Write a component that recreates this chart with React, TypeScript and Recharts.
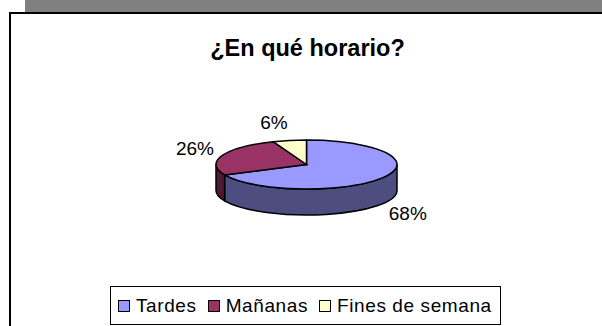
import React from 'react';
import { PieChart, Pie, Cell, Legend } from 'recharts';

const categories = ['Tardes', 'Mañanas', 'Fines de semana'];
const values = [68, 26, 6];
const topColors = ['#9999ff', '#993366', '#ffffcc'];
const wallColors = ['#4d4d80', '#4d1a33', '#80806a'];
const tableData = categories.map((name, i) => ({ name, value: values[i] }));

const CX = 306.5;
const CY = 164.5;
const RX = 90.5;
const SQUASH = 24.5 / 90.5;
const DEPTH = 26;
const RAD = Math.PI / 180;

const pt = (cx: number, cy: number, r: number, a: number) => [
  cx + r * Math.cos(a * RAD),
  cy - r * SQUASH * Math.sin(a * RAD),
];

function Slice3D(props: any) {
  const { cx, cy, outerRadius: r, startAngle, endAngle, index } = props;
  const ry = r * SQUASH;
  const [sx, sy] = pt(cx, cy, r, startAngle);
  const [ex, ey] = pt(cx, cy, r, endAngle);
  const large = Math.abs(startAngle - endAngle) > 180 ? 1 : 0;
  const top = `M${cx},${cy}L${sx},${sy}A${r},${ry} 0 ${large} 1 ${ex},${ey}Z`;
  const wa = Math.min(startAngle, 0);
  const wb = Math.max(endAngle, -180);
  let wall = null;
  if (wa > wb) {
    const [ax, ay] = pt(cx, cy, r, wa);
    const [bx, by] = pt(cx, cy, r, wb);
    wall = (
      <path
        d={`M${ax},${ay}A${r},${ry} 0 0 1 ${bx},${by}L${bx},${by + DEPTH}A${r},${ry} 0 0 0 ${ax},${ay + DEPTH}Z`}
        fill={wallColors[index]}
        stroke="#000"
        strokeWidth={1.5}
      />
    );
  }
  return (
    <g>
      {wall}
      <path d={top} fill={topColors[index]} stroke="#000" strokeWidth={1.5} />
    </g>
  );
}

const labelNudge = [0, 0, -10];

function SliceLabel(props: any) {
  const { cx, cy, midAngle, value, index } = props;
  const c = Math.cos(midAngle * RAD);
  const s = Math.sin(midAngle * RAD);
  const x = cx + 120 * c + labelNudge[index];
  const y = cy - 43 * s + (s < 0 ? DEPTH : 0);
  return (
    <text x={x} y={y} textAnchor="middle" dominantBaseline="central" fontSize={19} fontFamily="Liberation Sans" fill="#000">
      {value}%
    </text>
  );
}

function LegendBox() {
  return (
    <div
      style={{
        boxSizing: 'border-box',
        width: 391,
        height: 39,
        border: '1.5px solid #000',
        display: 'flex',
        alignItems: 'center',
        paddingLeft: 7,
        fontFamily: 'Liberation Sans',
        fontSize: 19,
        letterSpacing: 0.6,
        whiteSpace: 'nowrap',
        color: '#000',
        background: '#fff',
      }}
    >
      {categories.map((c, i) => (
        <span key={c} style={{ display: 'inline-flex', alignItems: 'center', marginRight: 11 }}>
          <span
            style={{ boxSizing: 'border-box', width: 12, height: 12, border: '1.5px solid #000', background: topColors[i], marginRight: 6 }}
          />
          {c}
        </span>
      ))}
    </div>
  );
}

export default function App() {
  return (
    <div style={{ position: 'absolute', left: 0, top: 0, width: 602, height: 326, overflow: 'hidden', background: '#fff' }}>
      <div style={{ position: 'absolute', left: 25, top: 0, width: 577, height: 12, background: '#808080' }} />
      <div style={{ position: 'absolute', left: 9, top: 12, width: 620, height: 340, boxSizing: 'border-box', border: '2px solid #000' }} />
      <PieChart width={602} height={326} margin={{ top: 0, right: 0, bottom: 0, left: 0 }} style={{ position: 'absolute', left: 0, top: 0 }}>
        <text x={307.5} y={48} textAnchor="middle" dominantBaseline="central" fontFamily="Liberation Sans" fontWeight="bold" fontSize={23.5} fill="#000">
          ¿En qué horario?
        </text>
        <Pie
          data={tableData}
          dataKey="value"
          nameKey="name"
          cx={CX}
          cy={CY}
          innerRadius={0}
          outerRadius={RX}
          startAngle={90}
          endAngle={-270}
          paddingAngle={0}
          isAnimationActive={false}
          shape={Slice3D}
          label={SliceLabel}
          labelLine={false}
        >
          {tableData.map((d, i) => (
            <Cell key={d.name} fill={topColors[i]} />
          ))}
        </Pie>
        <Legend content={<LegendBox />} wrapperStyle={{ position: 'absolute', left: 110, top: 286, width: 391 }} />
      </PieChart>
    </div>
  );
}
